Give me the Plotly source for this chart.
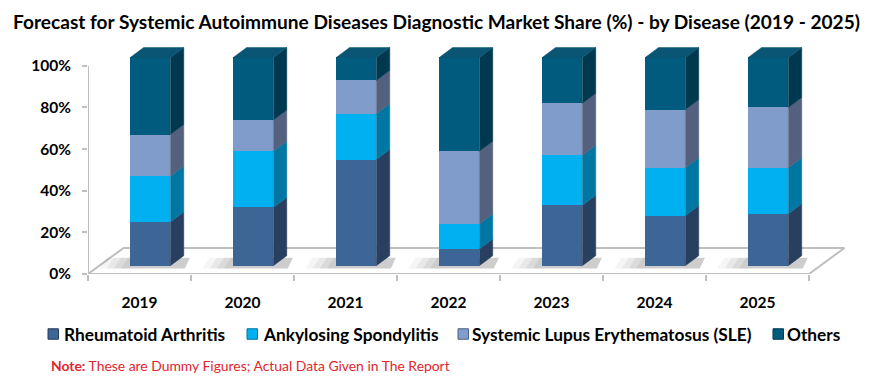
import plotly.graph_objects as go

# ---------------- data ----------------
years = ["2019", "2020", "2021", "2022", "2023", "2024", "2025"]
rheumatoid = [21, 28, 51, 8, 29, 24, 25]
ankylosing = [22, 27, 22, 12, 24, 23, 22]
sle = [20, 15, 16, 35, 25, 28, 29]
others = [37, 30, 11, 45, 22, 25, 24]
series_names = ["Rheumatoid Arthritis", "Ankylosing Spondylitis",
                "Systemic Lupus Erythematosus (SLE)", "Others"]
y_tick_values = [0, 20, 40, 60, 80, 100]

# ---------------- style ----------------
FONT = "Lato"
front_colors = ["#3D6596", "#00B0F0", "#7F9CCB", "#005B7F"]
side_colors = ["#283F5F", "#0077A3", "#53617F", "#00394F"]
top_color = "#0A5573"
axis_gray = "#BFBFBF"

OFF = 8                 # page body margin of the html page
W, H = 876 - OFF, 384 - OFF
L, R, T, B = 80, 31, 37, 110
x_range = [-0.5, 6.85]
y_range = [0, 110]
lift = 4.0              # front faces sit slightly above the floor edge
bar_w, bar_off = 0.39, -0.09
dx, dy = 0.13, 4.8      # 3D depth of bars
fdx, fdy = 0.345, 12.5  # depth of floor

series = [rheumatoid, ankylosing, sle, others]
xs = list(range(len(years)))
n = len(years)

plot_w = W - L - R
plot_h = H - T - B


def px_x(p):  # screen px -> paper x
    return (p - OFF - L) / plot_w


def px_y(p):  # screen px -> paper y
    return (H - B - (p - OFF)) / plot_h


fig = go.Figure()

# floor / wall outline
fig.add_trace(go.Scatter(
    x=[-0.5, -0.5, n - 0.5, n - 0.5 + fdx, -0.5 + fdx, -0.5],
    y=[100, 0, 0, fdy, fdy, 0],
    mode="lines", line=dict(color=axis_gray, width=2),
    hoverinfo="skip", showlegend=False, xaxis="x", yaxis="y"))

# soft shadows on the floor (base subplot, so they sit under the bars)
for ext, a in [(0.30, 0.04), (0.23, 0.05), (0.16, 0.06), (0.09, 0.06)]:
    sx, sy = [], []
    for i in xs:
        xl = i + bar_off
        xr = xl + bar_w
        sx += [xl - ext, xl - ext + 0.07, xr + dx + 0.06, xr + 0.14, xl - ext, None]
        sy += [lift - 1.4, lift + 3.8, lift + 3.8, lift - 1.4, lift - 1.4, None]
    fig.add_trace(go.Scatter(x=sx, y=sy, mode="lines", fill="toself",
                             fillcolor=f"rgba(0,0,0,{a})", line=dict(width=0),
                             hoverinfo="skip", showlegend=False,
                             xaxis="x", yaxis="y"))

# front faces
for name, vals, col in zip(series_names, series, front_colors):
    fig.add_trace(go.Bar(
        x=xs, y=vals, name=name, width=bar_w, offset=bar_off,
        marker=dict(color=col, line=dict(width=0)),
        showlegend=False, xaxis="x", yaxis="y2"))

# side faces
base = [0] * n
for vals, col in zip(series, side_colors):
    sx, sy = [], []
    for i in xs:
        b0 = base[i]
        b1 = b0 + vals[i]
        xr = i + bar_off + bar_w
        sx += [xr, xr + dx, xr + dx, xr, xr, None]
        sy += [b0, b0 + dy, b1 + dy, b1, b0, None]
        base[i] = b1
    fig.add_trace(go.Scatter(x=sx, y=sy, mode="lines", fill="toself",
                             fillcolor=col, line=dict(width=0.5, color=col),
                             hoverinfo="skip", showlegend=False,
                             xaxis="x", yaxis="y2"))

# top faces
tx, ty = [], []
for i in xs:
    xl = i + bar_off
    xr = xl + bar_w
    tot = base[i]
    tx += [xl, xl + dx, xr + dx, xr, xl, None]
    ty += [tot, tot + dy, tot + dy, tot, tot, None]
fig.add_trace(go.Scatter(x=tx, y=ty, mode="lines", fill="toself",
                         fillcolor=top_color, line=dict(width=0.5, color=top_color),
                         hoverinfo="skip", showlegend=False,
                         xaxis="x", yaxis="y2"))

# ---------------- legend (drawn as shapes + text) ----------------
legend_square_x = [48, 247, 458, 773]     # screen px, left edge of squares
legend_text_x = [63, 262, 471, 786]       # screen px, start of texts
legend_y = 334
sq = 10.5
shapes = []
annotations = []
for name, col, side, sx0, tx0 in zip(series_names, front_colors, side_colors,
                                     legend_square_x, legend_text_x):
    shapes.append(dict(
        type="rect", xref="paper", yref="paper",
        x0=px_x(sx0), x1=px_x(sx0 + sq),
        y0=px_y(legend_y + sq / 2), y1=px_y(legend_y - sq / 2),
        fillcolor=col, line=dict(color=side, width=1)))
    annotations.append(dict(
        text=f"<b>{name}</b>", xref="paper", yref="paper",
        x=px_x(tx0 - 1), y=px_y(legend_y), xanchor="left", yanchor="middle",
        showarrow=False, font=dict(family=FONT, size=17.3, color="black")))

annotations.append(dict(
    text="<b>Note:</b> These are Dummy Figures; Actual Data Given in The Report",
    xref="paper", yref="paper", x=px_x(49), y=px_y(365),
    xanchor="left", yanchor="middle", showarrow=False,
    font=dict(family=FONT, size=13.9, color="#E0262E")))

fig.update_layout(
    width=W, height=H,
    margin=dict(l=L, r=R, t=T, b=B),
    paper_bgcolor="white", plot_bgcolor="white",
    barmode="stack", showlegend=False,
    font=dict(family=FONT, color="black"),
    title=dict(
        text="Forecast for Systemic Autoimmune Diseases Diagnostic Market Share (%) - by Disease (2019 - 2025)",
        x=(436.5 - OFF) / W, xanchor="center", y=1 - (22 - OFF) / H, yanchor="middle",
        font=dict(family=FONT, size=19.1, weight="bold", color="black")),
    xaxis=dict(
        range=x_range, showgrid=False, zeroline=False, showline=False,
        tickmode="array", tickvals=xs, ticktext=years,
        ticks="outside", ticklen=0, tickcolor="rgba(0,0,0,0)",
        ticklabelstandoff=14,
        tickfont=dict(family=FONT, size=15.5, weight="bold", color="black"),
        minor=dict(tickmode="array", tickvals=[i - 0.5 for i in range(n + 1)],
                   ticks="outside", ticklen=6, tickcolor=axis_gray, tickwidth=1.5,
                   showgrid=False),
        fixedrange=True),
    yaxis=dict(
        range=y_range, showgrid=False, zeroline=False, showline=False,
        tickmode="array", tickvals=y_tick_values,
        ticktext=[f"{v}%" for v in y_tick_values],
        ticks="outside", ticklen=5, tickcolor=axis_gray, tickwidth=1.5,
        ticklabelstandoff=8,
        tickfont=dict(family=FONT, size=15.5, weight="bold", color="black"),
        fixedrange=True),
    yaxis2=dict(
        range=[y_range[0] - lift, y_range[1] - lift], overlaying="y",
        visible=False, fixedrange=True),
    shapes=shapes,
    annotations=annotations,
)

fig.write_html("out.html")
